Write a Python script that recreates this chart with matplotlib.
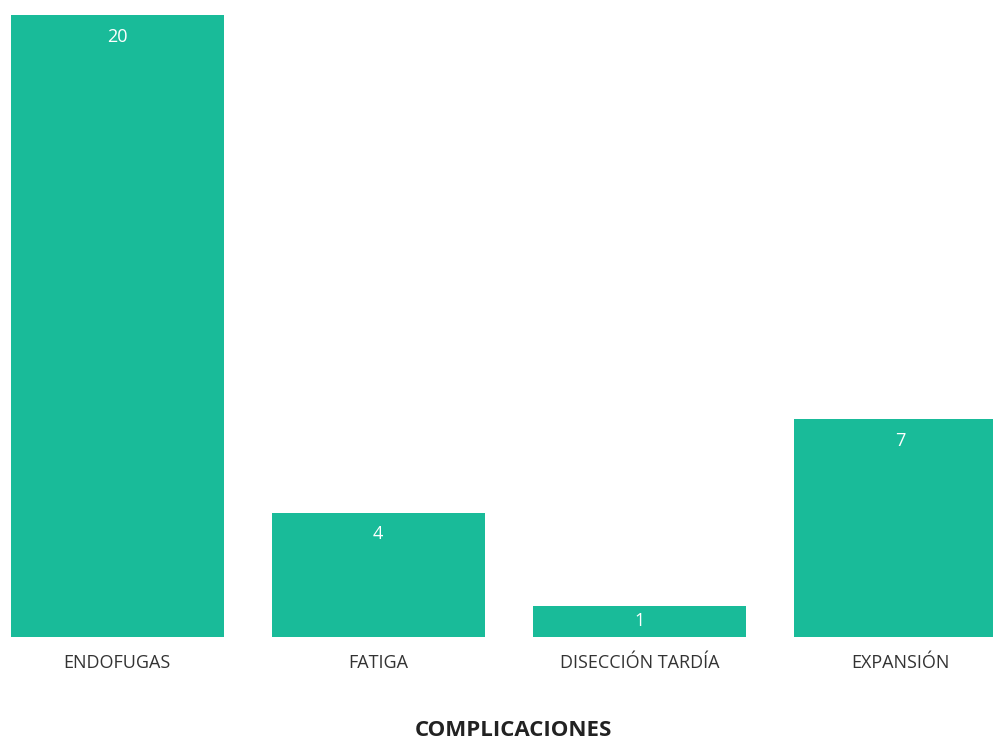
# plot.py
# Bar chart of complications, values written inside the bars.
import matplotlib.pyplot as plt

categories = ["ENDOFUGAS", "FATIGA", "DISECCIÓN TARDÍA", "EXPANSIÓN"]
values = [20, 4, 1, 7]

BAR_COLOR = "#19bb99"
TEXT_COLOR = "#333333"

plt.rcParams["font.family"] = ["Open Sans", "DejaVu Sans"]

fig = plt.figure(figsize=(9.93, 7.4), dpi=100)
# axes spans the whole width; baseline at y=637px, top of scale at y=15px
ax = fig.add_axes([0.0, 103 / 740, 1.0, 622 / 740])

x = list(range(len(categories)))
ax.bar(x, values, width=0.816, color=BAR_COLOR)

# value labels near the top of each bar (centred if the bar is short)
for xi, v in zip(x, values):
    y = max(v - 0.7, v / 2)
    ax.text(xi, y, str(v), ha="center", va="center", color="white", fontsize=13)

ax.set_xlim(-0.449, 3.355)
ax.set_ylim(0, 20)
ax.set_xticks(x)
ax.set_xticklabels(categories, fontsize=13, color=TEXT_COLOR)
ax.tick_params(axis="x", length=0, pad=12)
ax.set_yticks([])
for s in ax.spines.values():
    s.set_visible(False)

fig.text(0.5 + 17 / 993, 1 - 731 / 740, "COMPLICACIONES", ha="center", va="center",
         fontsize=16, fontweight="bold", color="#222222")

fig.savefig("out.png", dpi=100)
